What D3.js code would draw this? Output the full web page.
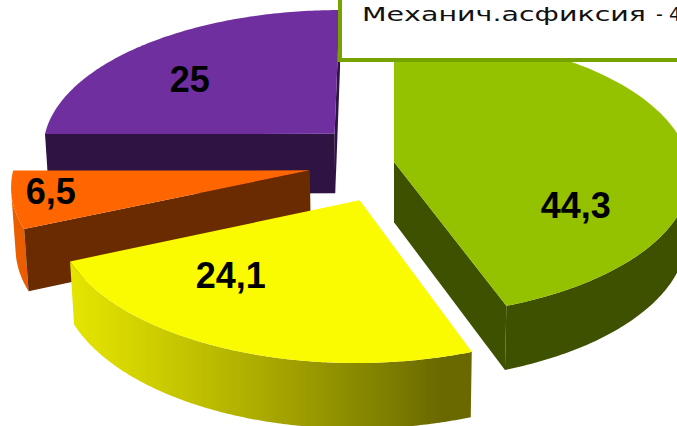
<!DOCTYPE html>
<html>
<head>
<meta charset="utf-8">
<script src="https://cdn.jsdelivr.net/npm/d3@7"></script>
<style>
  body { margin: 0; background: #fff; overflow: hidden; }
</style>
</head>
<body>
<div id="chart"></div>
<script>
// data
const values = [44.3, 24.1, 6.5, 25];
const legendNames = ["Механич.асфиксия"];

// styling per slice
const colors = ["#94c100", "#fafa00", "#ff6600", "#6f2f9f"];
const explode = [0, 0.29, 0.29, 0.29];
const labelT = [0.73, 0.69, 0.59, 0.43];
const labelR = [0.67, 0.63, 0.87, 0.675];

const width = 677, height = 426;

// simple perspective camera for the 3d pie (unit radius)
const cx = 394, cy = 162, K = 295, D = 9.53, H = 0.235;
const sinP = 0.475, cosP = Math.sqrt(1 - sinP * sinP);
const cam = [0, D * sinP, D * cosP];

function project(X, Y, Z) {
    const zc = Z * cosP + Y * sinP,
        yc = Z * sinP - Y * cosP,
        k = K / (1 - zc / D);
    return [cx + X * k, cy + yc * k];
}
function facing(p, n) {
    return (cam[0] - p[0]) * n[0] + (cam[1] - p[1]) * n[1] + (cam[2] - p[2]) * n[2] > 0;
}
function shade(c, f) {
    const r = d3.rgb(c);
    return d3.rgb(r.r * f, r.g * f, r.b * f).formatHex();
}

const fmt = d3.formatLocale({decimal: ",", thousands: " ", grouping: [3], currency: ["", ""]}).format(".3~g");

const svg = d3.select("#chart")
    .append("svg")
    .attr("width", width)
    .attr("height", height)
    .style("font-family", "'Liberation Sans', Arial, sans-serif");
const defs = svg.append("defs");

const poly = d3.line().curve(d3.curveLinearClosed);

// pie angles, clockwise from 12 o'clock
const arcs = d3.pie().sort(null).value(d => d)(values).map((p, i) => {
    const m = (p.startAngle + p.endAngle) / 2;
    return Object.assign(p, {
        i: i,
        ax: explode[i] * Math.sin(m),
        az: -explode[i] * Math.cos(m)
    });
});

const rim = (s, a, y) => [s.ax + Math.sin(a), y, s.az - Math.cos(a)];

// paint back slices first
const order = arcs.slice().sort((a, b) => a.az - b.az);

const sides = svg.append("g");
order.forEach(s => {
    const g = sides.append("g");
    const n = 180;
    // visible part of the outer rim
    const vis = [];
    for (let j = 0; j <= n; j++) {
        const a = s.startAngle + (s.endAngle - s.startAngle) * j / n;
        if (facing(rim(s, a, -H / 2), [Math.sin(a), 0, -Math.cos(a)])) vis.push(a);
    }
    if (vis.length > 1) {
        const topPts = vis.map(a => project(...rim(s, a, 0)));
        const botPts = vis.map(a => project(...rim(s, a, -H))).reverse();
        const xs = topPts.map(p => p[0]);
        const x0 = d3.min(xs), x1 = d3.max(xs);
        const stops = vis.map((a, k) => ({
            off: x1 > x0 ? (xs[k] - x0) / (x1 - x0) : 0,
            col: shade(colors[s.i], 0.42 + 0.5 * Math.max(0, Math.cos(a - 255 * Math.PI / 180)))
        })).sort((p, q) => p.off - q.off);
        const id = "rim" + s.i;
        defs.append("linearGradient")
            .attr("id", id)
            .attr("gradientUnits", "userSpaceOnUse")
            .attr("x1", x0).attr("x2", x1 > x0 ? x1 : x0 + 1)
            .attr("y1", 0).attr("y2", 0)
            .selectAll("stop")
            .data(stops)
            .join("stop")
            .attr("offset", d => d.off)
            .attr("stop-color", d => d.col);
        g.append("path")
            .attr("d", poly(topPts.concat(botPts)))
            .attr("fill", `url(#${id})`);
    }
    // the two cut faces
    [[s.startAngle, -Math.PI / 2], [s.endAngle, Math.PI / 2]].forEach(([a, off]) => {
        const nrm = [Math.sin(a + off), 0, -Math.cos(a + off)];
        const mid = [s.ax + 0.5 * Math.sin(a), -H / 2, s.az - 0.5 * Math.cos(a)];
        if (!facing(mid, nrm)) return;
        g.append("path")
            .attr("d", poly([
                project(s.ax, 0, s.az), project(...rim(s, a, 0)),
                project(...rim(s, a, -H)), project(s.ax, -H, s.az)]))
            .attr("fill", shade(colors[s.i], 0.42));
    });
});

// top faces
const tops = svg.append("g");
arcs.forEach(s => {
    const pts = [project(s.ax, 0, s.az)];
    const n = 120;
    for (let j = 0; j <= n; j++) {
        const a = s.startAngle + (s.endAngle - s.startAngle) * j / n;
        pts.push(project(...rim(s, a, 0)));
    }
    tops.append("path")
        .attr("d", poly(pts))
        .attr("fill", colors[s.i]);
});

// value labels
svg.append("g")
    .selectAll("text")
    .data(arcs)
    .join("text")
    .attr("transform", s => {
        const a = s.startAngle + (s.endAngle - s.startAngle) * labelT[s.i],
            r = labelR[s.i];
        const p = project(s.ax + r * Math.sin(a), 0, s.az - r * Math.cos(a));
        return `translate(${p[0]}, ${p[1]})`;
    })
    .attr("dy", "0.35em")
    .attr("text-anchor", "middle")
    .attr("font-size", "36px")
    .attr("font-weight", "bold")
    .attr("fill", "#000")
    .text(s => fmt(s.data));

// legend box (cut by the picture edge)
const legend = svg.append("g")
    .attr("font-family", "'DejaVu Sans', sans-serif")
    .attr("font-size", "19px")
    .attr("fill", "#111");
legend.append("rect")
    .attr("x", 340)
    .attr("y", -10)
    .attr("width", 420)
    .attr("height", 70)
    .attr("fill", "#fff")
    .attr("stroke", "#77a300")
    .attr("stroke-width", 4);
legend.append("text")
    .attr("x", 362)
    .attr("y", 21)
    .attr("textLength", 284)
    .attr("lengthAdjust", "spacingAndGlyphs")
    .text(legendNames[0]);
legend.append("text")
    .attr("x", 656)
    .attr("y", 21)
    .text(`- ${fmt(values[0])}%`);
</script>
</body>
</html>
